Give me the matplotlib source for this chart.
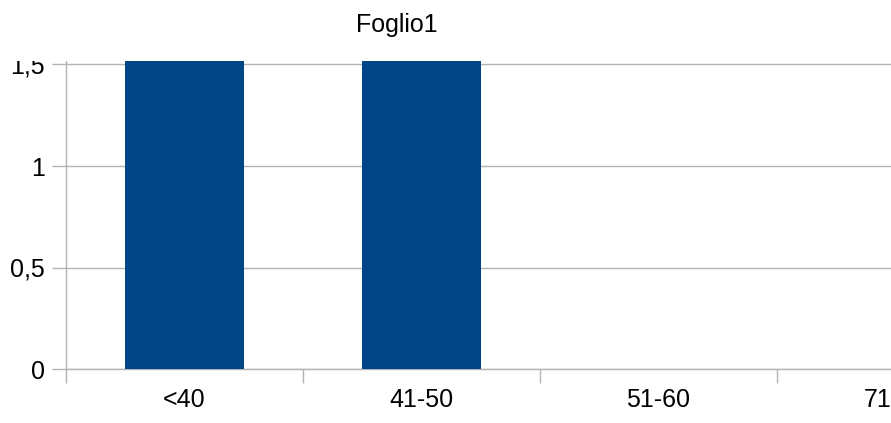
import matplotlib
matplotlib.use("Agg")
import matplotlib.pyplot as plt
import numpy as np
from matplotlib.patches import Rectangle

categories = ["<40", "41-50", "51-60", "71-80"]
values = [2, 2, 0, 0]

W, H = 891, 423
fig = plt.figure(figsize=(W/100, H/100), dpi=100)
plt.rcParams['font.family'] = ['Liberation Sans', 'DejaVu Sans']

px_per_unit = 203.0
top_px = 61
y0 = 369
ymax = (y0 - top_px) / px_per_unit
x0, x1 = 66, 66 + 4*237
ax = fig.add_axes([x0/W, (H-y0)/H, (x1-x0)/W, (y0-top_px)/H])
ax.set_xlim(0, len(categories))
ax.set_ylim(0, ymax)
x = np.arange(len(categories)) + 0.5
ax.bar(x, values, width=0.5, color="#004586", zorder=3)

yt = np.arange(0, 1.51, 0.5)
ax.set_yticks(yt)
ax.set_yticklabels([("%g" % v).replace(".", ",") for v in yt])
ax.set_xticks(np.arange(0, len(categories) + 1))
ax.set_xticklabels([])
ax.set_xticks(x, minor=True)
ax.set_xticklabels(categories, minor=True)
ax.tick_params(axis='x', which='minor', length=0, pad=14, labelsize=18)
ax.tick_params(axis='x', which='major', length=10, color="#b3b3b3", width=1)
ax.tick_params(axis='y', length=10, color="#b3b3b3", width=1, labelsize=18, pad=5)
ax.grid(axis='y', color="#b3b3b3", linewidth=1, zorder=0)
for s in ["top", "right"]:
    ax.spines[s].set_visible(False)
for s in ["left", "bottom"]:
    ax.spines[s].set_color("#b3b3b3")
    ax.spines[s].set_linewidth(1)

# white band above the plot area that hides the top of the "1,5" label
fig.patches.append(Rectangle((0, 1 - top_px/H), 1, top_px/H, transform=fig.transFigure,
                             facecolor="white", edgecolor="none", zorder=5))
fig.text(397/W, 1 - 25/H, "Foglio1", ha="center", va="center", fontsize=18, zorder=6)
fig.savefig("out.png", dpi=100)
